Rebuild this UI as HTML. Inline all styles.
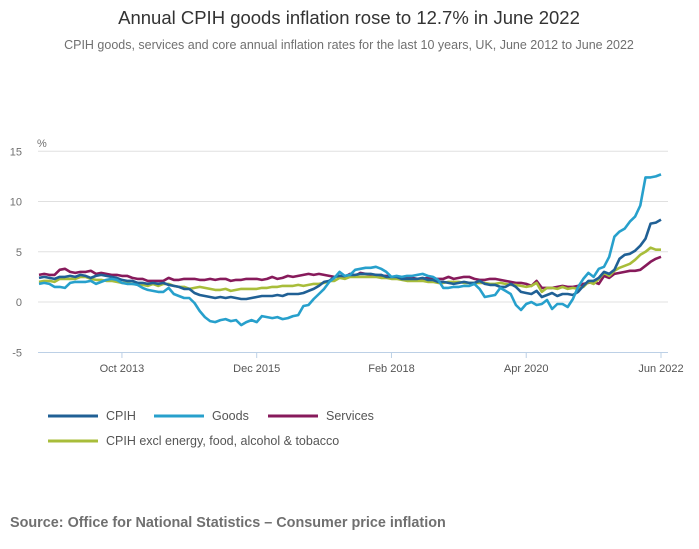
<!DOCTYPE html>
<html><head><meta charset="utf-8"><style>
body{margin:0;background:#fff;font-family:"Liberation Sans",sans-serif;}
svg{display:block}
</style></head><body>
<svg width="699" height="549">
<text x="349" y="24" text-anchor="middle" font-size="18.5" fill="#333">Annual CPIH goods inflation rose to 12.7% in June 2022</text>
<text x="349" y="49" text-anchor="middle" font-size="12.5" fill="#707070">CPIH goods, services and core annual inflation rates for the last 10 years, UK, June 2012 to June 2022</text>
<text x="37" y="147" font-size="11" fill="#707070">%</text>
<g id="grid"></g><g id="xaxis"></g><g id="lines"></g>
<g font-size="12.5" fill="#555">
<line x1="48" y1="416" x2="98" y2="416" stroke="#206095" stroke-width="3"/>
<text x="106" y="420">CPIH</text>
<line x1="154" y1="416" x2="204" y2="416" stroke="#27a0cc" stroke-width="3"/>
<text x="212" y="420">Goods</text>
<line x1="268" y1="416" x2="318" y2="416" stroke="#871a5b" stroke-width="3"/>
<text x="326" y="420">Services</text>
<line x1="48" y1="441" x2="98" y2="441" stroke="#a8bd3a" stroke-width="3"/>
<text x="106" y="445">CPIH excl energy, food, alcohol &amp; tobacco</text>
</g>
<text x="10" y="527" font-size="14.4" font-weight="bold" fill="#707070">Source: Office for National Statistics – Consumer price inflation</text>
</svg>
<script>
const yTicks=[15,10,5,0,-5];
const xTickLabels=["Oct 2013","Dec 2015","Feb 2018","Apr 2020","Jun 2022"];
const xTickMonths=[16,42,68,94,120];
const cpih=[2.4,2.5,2.4,2.3,2.5,2.5,2.6,2.5,2.7,2.6,2.4,2.6,
2.7,2.6,2.5,2.4,2.2,2.1,2.1,1.9,1.9,1.8,1.9,1.8,
1.9,1.7,1.6,1.5,1.3,1.3,0.9,0.7,0.6,0.5,0.4,0.5,
0.4,0.5,0.4,0.3,0.3,0.4,0.5,0.6,0.6,0.6,0.7,0.6,
0.8,0.8,0.8,0.9,1.1,1.3,1.6,2.0,2.1,2.5,2.6,2.6,
2.7,2.7,2.8,2.8,2.8,2.7,2.7,2.5,2.5,2.5,2.3,2.3,
2.3,2.3,2.4,2.2,2.2,2.0,2.0,1.9,1.8,1.9,2.0,1.9,
1.9,2.1,1.8,1.7,1.7,1.5,1.5,1.8,1.5,1.0,0.9,0.8,
1.1,0.5,0.7,0.9,0.6,0.8,0.8,0.7,1.0,1.6,2.1,2.1,
2.4,3.0,2.8,3.2,4.3,4.7,4.8,5.1,5.6,6.3,7.8,7.9,8.2];
const goods=[1.8,1.9,1.8,1.5,1.5,1.4,1.9,2.0,2.0,2.0,2.1,1.8,
2.0,2.2,2.3,2.2,1.9,1.8,1.8,1.7,1.4,1.2,1.1,1.0,
1.0,1.4,0.8,0.6,0.4,0.4,-0.1,-0.9,-1.5,-1.9,-2.0,-1.8,
-1.7,-1.9,-1.8,-2.3,-2.0,-1.8,-2.0,-1.4,-1.5,-1.6,-1.5,-1.7,
-1.6,-1.4,-1.3,-0.4,-0.3,0.3,0.8,1.3,2.0,2.4,3.0,2.6,
2.7,3.2,3.3,3.4,3.4,3.5,3.3,3.0,2.5,2.6,2.5,2.6,
2.6,2.7,2.8,2.6,2.5,2.2,1.4,1.4,1.5,1.5,1.6,1.6,
1.8,1.3,0.5,0.6,0.7,1.4,1.1,0.8,-0.3,-0.8,-0.2,0.0,
-0.3,-0.2,0.2,-0.7,-0.2,-0.2,-0.5,0.3,1.5,2.3,2.9,2.5,
3.3,3.5,4.5,6.5,7.0,7.3,8.0,8.5,9.6,12.4,12.4,12.5,12.7];
const services=[2.7,2.8,2.7,2.7,3.2,3.3,3.0,2.9,3.0,3.0,3.1,2.8,
2.9,2.8,2.7,2.7,2.6,2.6,2.4,2.3,2.3,2.1,2.1,2.1,
2.1,2.4,2.2,2.2,2.3,2.3,2.3,2.2,2.2,2.3,2.2,2.3,
2.3,2.1,2.2,2.2,2.3,2.3,2.3,2.2,2.3,2.5,2.3,2.4,
2.6,2.5,2.6,2.7,2.8,2.7,2.8,2.7,2.6,2.5,2.6,2.5,
2.8,2.6,2.9,2.8,2.7,2.7,2.6,2.6,2.5,2.5,2.4,2.4,
2.4,2.3,2.3,2.4,2.3,2.3,2.3,2.5,2.3,2.4,2.5,2.5,
2.3,2.2,2.2,2.3,2.3,2.2,2.1,2.0,1.9,1.9,1.8,1.6,
2.1,1.4,1.4,1.4,1.5,1.6,1.5,1.5,1.6,1.8,1.9,2.0,
1.8,2.6,2.4,2.8,2.9,3.0,3.1,3.1,3.2,3.6,4.0,4.3,4.5];
const core=[2.0,2.1,2.1,2.0,2.3,2.3,2.3,2.3,2.5,2.5,2.3,2.2,
2.2,2.1,2.1,2.0,1.9,1.9,1.8,1.8,1.7,1.6,1.8,1.6,
1.8,1.8,1.6,1.5,1.5,1.3,1.4,1.5,1.4,1.3,1.2,1.2,
1.3,1.1,1.2,1.3,1.3,1.3,1.3,1.4,1.4,1.5,1.5,1.6,
1.6,1.6,1.7,1.6,1.7,1.8,1.8,1.9,2.1,2.1,2.4,2.3,
2.5,2.5,2.5,2.5,2.5,2.5,2.4,2.4,2.3,2.3,2.2,2.1,
2.1,2.1,2.1,2.0,2.0,1.9,1.9,2.0,2.0,2.0,1.9,1.9,
1.9,1.9,1.9,1.8,1.8,1.9,1.8,1.7,1.7,1.6,1.5,1.6,
1.9,1.0,1.4,1.4,1.3,1.5,1.3,1.4,1.3,1.5,2.0,1.8,
2.3,2.9,2.6,3.1,3.4,3.6,3.8,4.2,4.7,5.0,5.4,5.2,5.2];
const NS="http://www.w3.org/2000/svg";
const X0=39,X1=661,N=120,Y0=302,PPU=10.05;
const xs=i=>X0+(X1-X0)*i/N;
const ys=v=>Y0-v*PPU;
function mk(t,a,p){const e=document.createElementNS(NS,t);for(const k in a)e.setAttribute(k,a[k]);p.appendChild(e);return e;}
const grid=document.getElementById('grid');
yTicks.forEach(v=>{
  if(v!==-5){const l=mk('line',{x1:38,x2:668,y1:ys(v),y2:ys(v),stroke:'#e0e0e0','stroke-width':1},grid);
  
  }
  const t=mk('text',{x:22,y:ys(v)+4,'text-anchor':'end','font-size':11,fill:'#707070'},grid);
  t.textContent=v;
  
  
});
const xa=document.getElementById('xaxis');
const ax=mk('line',{x1:38,x2:668,y1:352.5,y2:352.5,stroke:'#bcd0e6','stroke-width':1},xa);


xTickMonths.forEach((m,k)=>{
  const tk=mk('line',{x1:xs(m),x2:xs(m),y1:352,y2:358,stroke:'#bcd0e6'},xa);
  
  
  const t=mk('text',{x:xs(m),y:372,'text-anchor':'middle','font-size':11,fill:'#555'},xa);
  t.textContent=xTickLabels[k];
  
  
});
const lines=document.getElementById('lines');
[['services',services,'#871a5b'],['core',core,'#a8bd3a'],['cpih',cpih,'#206095'],['goods',goods,'#27a0cc']].forEach(([n,d,c])=>{
  const p=mk('polyline',{points:d.map((v,i)=>xs(i).toFixed(1)+','+ys(v).toFixed(1)).join(' '),fill:'none',stroke:c,'stroke-width':2.6,'stroke-linejoin':'round'},lines);
  
  
});
</script>
</body></html>
